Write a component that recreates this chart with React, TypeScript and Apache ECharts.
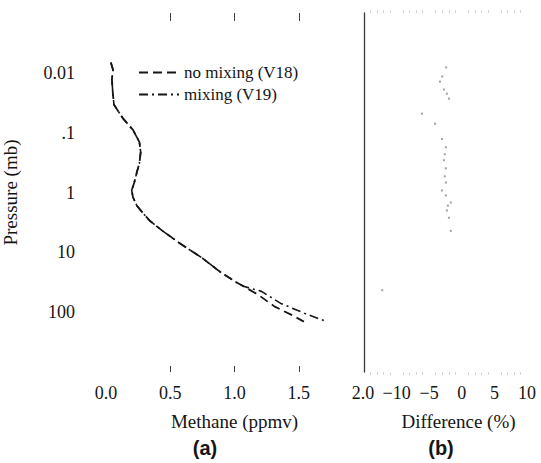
import React, { useEffect, useRef } from "react";
import * as echarts from "echarts";

// Panel (a): methane mixing ratio profiles
const pressureV18 = [0.0067, 0.0088, 0.013, 0.023, 0.034, 0.057, 0.09, 0.144, 0.212, 0.324, 0.46, 0.68, 0.92, 1.21, 1.66, 2.17, 2.96, 4.38, 6.97, 12.5, 20.6, 30.4, 37, 50.4, 80, 110, 144];
const methaneV18 = [0.038, 0.054, 0.046, 0.054, 0.062, 0.13, 0.21, 0.26, 0.27, 0.26, 0.24, 0.22, 0.2, 0.21, 0.24, 0.285, 0.34, 0.44, 0.57, 0.75, 0.88, 1.0, 1.07, 1.18, 1.31, 1.44, 1.54];
const pressureV19 = [0.0067, 0.0088, 0.013, 0.023, 0.034, 0.057, 0.09, 0.144, 0.212, 0.324, 0.46, 0.68, 0.92, 1.21, 1.66, 2.17, 2.96, 4.38, 6.97, 12.5, 20.6, 30.4, 37, 44.9, 71.4, 110, 144];
const methaneV19 = [0.038, 0.054, 0.046, 0.054, 0.062, 0.13, 0.21, 0.26, 0.27, 0.26, 0.24, 0.22, 0.2, 0.21, 0.24, 0.285, 0.34, 0.44, 0.57, 0.75, 0.88, 1.0, 1.07, 1.21, 1.36, 1.57, 1.72];

// Panel (b): percent difference
const pressureDiff = [0.0081, 0.0115, 0.014, 0.019, 0.0223, 0.027, 0.048, 0.071, 0.128, 0.175, 0.229, 0.289, 0.394, 0.537, 0.68, 0.925, 1.12, 1.47, 1.66, 2.0, 2.64, 4.37, 43];
const differencePct = [-2.4, -3.0, -3.35, -2.74, -2.29, -1.98, -6.1, -4.1, -3.05, -2.44, -2.6, -2.74, -2.44, -2.6, -2.44, -3.05, -2.44, -1.68, -2.13, -2.29, -1.98, -1.68, -12.2];

// Tick labels
const pressureTickLabels = ["", "0.01", ".1", "1", "10", "100", ""]; // 0.001 .. 1000
const methaneTicks = [0, 0.5, 1, 1.5, 2];
const methaneTickLabels = ["0.0", "0.5", "1.0", "1.5", "2.0"];
const diffTicks = [-10, -5, 0, 5, 10];

const SERIF = '"Liberation Serif", "Times New Roman", serif';
const INK = "#151515";

export default function App() {
  const ref = useRef<HTMLDivElement>(null);
  useEffect(() => {
    if (!ref.current) return;
    const chart = echarts.init(ref.current, undefined, { renderer: "svg" });
    const gridTop = 13;
    const gridBottom = 463 - 372;
    const labelStyle = { fontFamily: SERIF, fontSize: 18, color: INK };
    chart.setOption({
      animation: false,
      backgroundColor: "#ffffff",
      grid: [
        { left: 103, right: 541 - 363, top: gridTop, bottom: gridBottom },
        { left: 364, right: 541 - 527, top: gridTop, bottom: gridBottom },
      ],
      legend: {
        orient: "vertical",
        left: 133,
        top: 59,
        itemWidth: 40,
        itemHeight: 14,
        itemGap: 5,
        itemStyle: { color: "rgba(0,0,0,0)", borderWidth: 0, opacity: 0 },
        textStyle: { fontFamily: SERIF, fontSize: 17, color: INK },
        data: ["no mixing (V18)", "mixing (V19)"],
      },
      xAxis: [
        {
          gridIndex: 0,
          type: "value",
          min: 0,
          max: 2,
          interval: 0.5,
          position: "bottom",
          name: "Methane (ppmv)",
          nameLocation: "middle",
          nameGap: 40,
          nameTextStyle: { fontFamily: SERIF, fontSize: 19, color: INK },
          axisLine: { show: false },
          axisTick: { show: true, inside: true, length: 6, customValues: [0.5, 1, 1.5], lineStyle: { color: "#444" } },
          splitLine: { show: false },
          axisLabel: {
            ...labelStyle,
            margin: 12,
            customValues: methaneTicks,
            formatter: (v: number) => methaneTickLabels[methaneTicks.indexOf(Math.round(v * 2) / 2)] ?? "",
          },
        },
        {
          gridIndex: 0,
          type: "value",
          min: 0,
          max: 2,
          interval: 0.5,
          position: "top",
          axisLine: { show: false },
          axisTick: { show: true, inside: true, length: 8, customValues: [0.5, 1, 1.5], lineStyle: { color: "#444" } },
          axisLabel: { show: false },
          splitLine: { show: false },
        },
        {
          gridIndex: 1,
          type: "value",
          min: -15,
          max: 10,
          interval: 5,
          position: "bottom",
          name: "Difference (%)",
          nameLocation: "middle",
          nameGap: 40,
          nameTextStyle: { fontFamily: SERIF, fontSize: 19, color: INK, padding: [0, 0, 0, 26] },
          axisLine: { show: false },
          axisTick: { show: false },
          minorTick: { show: true, splitNumber: 5, length: 3, lineStyle: { color: "#d4d4d4" } },
          splitLine: { show: false },
          axisLabel: {
            ...labelStyle,
            margin: 12,
            customValues: diffTicks,
            formatter: (v: number) => (v <= -15 ? "" : String(v).replace("-", "\u2212")),
          },
        },
        {
          gridIndex: 1,
          type: "value",
          min: -15,
          max: 10,
          interval: 5,
          position: "top",
          axisLine: { show: false },
          axisTick: { show: false },
          minorTick: { show: true, splitNumber: 5, length: 3, lineStyle: { color: "#d4d4d4" } },
          axisLabel: { show: false },
          splitLine: { show: false },
        },
      ],
      yAxis: [
        {
          gridIndex: 0,
          type: "log",
          logBase: 10,
          min: 0.001,
          max: 1000,
          inverse: true,
          name: "Pressure (mb)",
          nameLocation: "middle",
          nameRotate: 90,
          nameGap: 86,
          nameTextStyle: { fontFamily: SERIF, fontSize: 19, color: INK },
          axisLine: { show: false },
          axisTick: { show: false },
          splitLine: { show: false },
          axisLabel: {
            ...labelStyle,
            margin: 31,
            formatter: (v: number) => pressureTickLabels[Math.round(Math.log10(v)) + 3] ?? "",
          },
        },
        {
          gridIndex: 1,
          type: "log",
          logBase: 10,
          min: 0.001,
          max: 1000,
          inverse: true,
          axisLine: { show: true, onZero: false, lineStyle: { color: "#3a3a3a", width: 1.3 } },
          axisTick: { show: false },
          axisLabel: { show: false },
          splitLine: { show: false },
        },
      ],
      series: [
        {
          name: "no mixing (V18)",
          type: "line",
          xAxisIndex: 0,
          yAxisIndex: 0,
          symbol: "none",
          smooth: false,
          itemStyle: { color: INK },
          lineStyle: { color: INK, width: 1.8, type: [9, 5] },
          data: methaneV18.map((m, i) => [m, pressureV18[i]]),
        },
        {
          name: "mixing (V19)",
          type: "line",
          xAxisIndex: 0,
          yAxisIndex: 0,
          symbol: "none",
          smooth: false,
          itemStyle: { color: INK },
          lineStyle: { color: INK, width: 1.6, type: [9, 4, 2, 4] },
          data: methaneV19.map((m, i) => [m, pressureV19[i]]),
        },
        {
          name: "difference",
          type: "scatter",
          xAxisIndex: 2,
          yAxisIndex: 1,
          symbol: "rect",
          symbolSize: 2,
          itemStyle: { color: "#8a8a8a" },
          data: differencePct.map((d, i) => [d, pressureDiff[i]]),
        },
      ],
      graphic: [
        {
          type: "text",
          x: 205,
          y: 448,
          style: { text: "(a)", font: 'bold 20px "Liberation Sans", Arial, sans-serif', fill: INK, align: "center", verticalAlign: "middle" },
        },
        {
          type: "text",
          x: 441,
          y: 448,
          style: { text: "(b)", font: 'bold 20px "Liberation Sans", Arial, sans-serif', fill: INK, align: "center", verticalAlign: "middle" },
        },
      ],
    });
    return () => chart.dispose();
  }, []);
  return <div ref={ref} style={{ position: "fixed", left: 0, top: 0, width: 541, height: 463 }} />;
}
